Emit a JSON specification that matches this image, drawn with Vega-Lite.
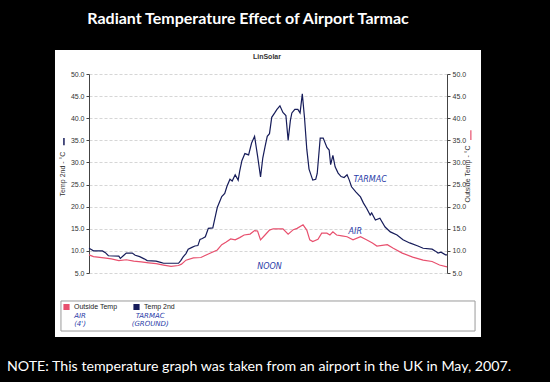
{
  "$schema": "https://vega.github.io/schema/vega-lite/v6.json",
  "width": 358,
  "height": 199,
  "autosize": {"type": "none"},
  "padding": {"left": 89, "top": 74, "right": 103, "bottom": 109},
  "background": "white",
  "title": {
    "text": "Radiant Temperature Effect of Airport Tarmac",
    "color": "white",
    "font": "Lato",
    "fontSize": 16,
    "fontWeight": "bold",
    "anchor": "middle",
    "frame": "group",
    "dx": -20,
    "offset": -27,
    "zindex": 1
  },
  "config": {
    "view": {"stroke": null},
    "axis": {
      "labelFont": "Liberation Sans",
      "titleFont": "Liberation Sans",
      "labelFontSize": 7,
      "titleFontSize": 7,
      "titleFontWeight": "normal",
      "labelColor": "#333333",
      "titleColor": "#333333",
      "domainColor": "#444444",
      "tickColor": "#444444",
      "tickSize": 3,
      "labelPadding": 2,
      "gridColor": "#c4c4c4",
      "gridDash": [3, 2],
      "gridWidth": 0.7
    },
    "legend": {
      "labelFont": "Liberation Sans",
      "labelFontSize": 7,
      "labelColor": "#222222"
    }
  },
  "datasets": {
    "temps": [
      {"h": 0, "s": "Temp 2nd", "t": 10.6},
      {"h": 0.15, "s": "Temp 2nd", "t": 10.3},
      {"h": 0.3, "s": "Temp 2nd", "t": 10.0},
      {"h": 0.9, "s": "Temp 2nd", "t": 10.0},
      {"h": 1.1, "s": "Temp 2nd", "t": 9.6},
      {"h": 1.3, "s": "Temp 2nd", "t": 8.9},
      {"h": 2.0, "s": "Temp 2nd", "t": 8.8},
      {"h": 2.1, "s": "Temp 2nd", "t": 8.3},
      {"h": 2.3, "s": "Temp 2nd", "t": 8.9},
      {"h": 2.5, "s": "Temp 2nd", "t": 9.5},
      {"h": 2.9, "s": "Temp 2nd", "t": 9.5},
      {"h": 3.1, "s": "Temp 2nd", "t": 9.0},
      {"h": 3.4, "s": "Temp 2nd", "t": 8.7},
      {"h": 3.7, "s": "Temp 2nd", "t": 8.2},
      {"h": 3.9, "s": "Temp 2nd", "t": 7.8},
      {"h": 4.5, "s": "Temp 2nd", "t": 7.7},
      {"h": 4.8, "s": "Temp 2nd", "t": 7.4},
      {"h": 5.0, "s": "Temp 2nd", "t": 7.2},
      {"h": 6.0, "s": "Temp 2nd", "t": 7.2},
      {"h": 6.15, "s": "Temp 2nd", "t": 7.8},
      {"h": 6.3, "s": "Temp 2nd", "t": 8.6},
      {"h": 6.5, "s": "Temp 2nd", "t": 9.4},
      {"h": 6.65, "s": "Temp 2nd", "t": 10.4},
      {"h": 6.9, "s": "Temp 2nd", "t": 10.8},
      {"h": 7.1, "s": "Temp 2nd", "t": 11.1},
      {"h": 7.3, "s": "Temp 2nd", "t": 11.2},
      {"h": 7.44, "s": "Temp 2nd", "t": 12.6},
      {"h": 7.6, "s": "Temp 2nd", "t": 12.8},
      {"h": 7.8, "s": "Temp 2nd", "t": 13.2},
      {"h": 8.0, "s": "Temp 2nd", "t": 15.1},
      {"h": 8.3, "s": "Temp 2nd", "t": 15.2},
      {"h": 8.45, "s": "Temp 2nd", "t": 17.5},
      {"h": 8.6, "s": "Temp 2nd", "t": 19.8},
      {"h": 8.9, "s": "Temp 2nd", "t": 22.3},
      {"h": 9.1, "s": "Temp 2nd", "t": 23.0},
      {"h": 9.25, "s": "Temp 2nd", "t": 24.6},
      {"h": 9.45, "s": "Temp 2nd", "t": 26.2},
      {"h": 9.6, "s": "Temp 2nd", "t": 25.8},
      {"h": 9.8, "s": "Temp 2nd", "t": 27.2},
      {"h": 10.0, "s": "Temp 2nd", "t": 26.0},
      {"h": 10.1, "s": "Temp 2nd", "t": 28.0},
      {"h": 10.25, "s": "Temp 2nd", "t": 30.4},
      {"h": 10.45, "s": "Temp 2nd", "t": 32.0},
      {"h": 10.7, "s": "Temp 2nd", "t": 31.7},
      {"h": 10.9, "s": "Temp 2nd", "t": 34.4},
      {"h": 11.1, "s": "Temp 2nd", "t": 35.9},
      {"h": 11.3, "s": "Temp 2nd", "t": 31.5},
      {"h": 11.5, "s": "Temp 2nd", "t": 26.7},
      {"h": 11.65, "s": "Temp 2nd", "t": 31.0},
      {"h": 11.8, "s": "Temp 2nd", "t": 33.5},
      {"h": 11.95, "s": "Temp 2nd", "t": 35.9},
      {"h": 12.1, "s": "Temp 2nd", "t": 36.5},
      {"h": 12.25, "s": "Temp 2nd", "t": 40.2},
      {"h": 12.45, "s": "Temp 2nd", "t": 41.2},
      {"h": 12.6, "s": "Temp 2nd", "t": 42.0},
      {"h": 12.8, "s": "Temp 2nd", "t": 42.8},
      {"h": 13.0, "s": "Temp 2nd", "t": 41.3},
      {"h": 13.2, "s": "Temp 2nd", "t": 40.6},
      {"h": 13.35, "s": "Temp 2nd", "t": 35.0},
      {"h": 13.5, "s": "Temp 2nd", "t": 39.5},
      {"h": 13.6, "s": "Temp 2nd", "t": 41.2},
      {"h": 13.8, "s": "Temp 2nd", "t": 42.0},
      {"h": 14.0, "s": "Temp 2nd", "t": 42.0},
      {"h": 14.15, "s": "Temp 2nd", "t": 41.2},
      {"h": 14.3, "s": "Temp 2nd", "t": 45.5},
      {"h": 14.45, "s": "Temp 2nd", "t": 40.0},
      {"h": 14.6, "s": "Temp 2nd", "t": 33.0},
      {"h": 14.75, "s": "Temp 2nd", "t": 28.5},
      {"h": 15.0, "s": "Temp 2nd", "t": 26.0},
      {"h": 15.2, "s": "Temp 2nd", "t": 26.2},
      {"h": 15.3, "s": "Temp 2nd", "t": 27.5},
      {"h": 15.5, "s": "Temp 2nd", "t": 35.5},
      {"h": 15.7, "s": "Temp 2nd", "t": 35.5},
      {"h": 15.95, "s": "Temp 2nd", "t": 33.4},
      {"h": 16.1, "s": "Temp 2nd", "t": 32.8},
      {"h": 16.2, "s": "Temp 2nd", "t": 29.5},
      {"h": 16.35, "s": "Temp 2nd", "t": 31.6},
      {"h": 16.5, "s": "Temp 2nd", "t": 29.0},
      {"h": 16.7, "s": "Temp 2nd", "t": 27.6},
      {"h": 16.9, "s": "Temp 2nd", "t": 26.8},
      {"h": 17.1, "s": "Temp 2nd", "t": 26.6},
      {"h": 17.3, "s": "Temp 2nd", "t": 27.2},
      {"h": 17.45, "s": "Temp 2nd", "t": 26.0},
      {"h": 17.6, "s": "Temp 2nd", "t": 24.5},
      {"h": 17.9, "s": "Temp 2nd", "t": 23.3},
      {"h": 18.2, "s": "Temp 2nd", "t": 22.2},
      {"h": 18.4, "s": "Temp 2nd", "t": 20.8},
      {"h": 18.6, "s": "Temp 2nd", "t": 19.7},
      {"h": 18.85, "s": "Temp 2nd", "t": 18.1},
      {"h": 18.95, "s": "Temp 2nd", "t": 18.6},
      {"h": 19.2, "s": "Temp 2nd", "t": 17.0},
      {"h": 19.5, "s": "Temp 2nd", "t": 17.4},
      {"h": 19.85, "s": "Temp 2nd", "t": 15.4},
      {"h": 20.2, "s": "Temp 2nd", "t": 14.3},
      {"h": 20.65, "s": "Temp 2nd", "t": 13.6},
      {"h": 21.05, "s": "Temp 2nd", "t": 12.5},
      {"h": 21.5, "s": "Temp 2nd", "t": 11.8},
      {"h": 22.05, "s": "Temp 2nd", "t": 11.1},
      {"h": 22.4, "s": "Temp 2nd", "t": 10.6},
      {"h": 23.0, "s": "Temp 2nd", "t": 10.4},
      {"h": 23.2, "s": "Temp 2nd", "t": 10.0},
      {"h": 23.4, "s": "Temp 2nd", "t": 9.5},
      {"h": 23.6, "s": "Temp 2nd", "t": 9.7},
      {"h": 23.9, "s": "Temp 2nd", "t": 9.1},
      {"h": 24.0, "s": "Temp 2nd", "t": 9.1},
      {"h": 0, "s": "Outside Temp", "t": 9.1},
      {"h": 0.3, "s": "Outside Temp", "t": 8.7},
      {"h": 1.0, "s": "Outside Temp", "t": 8.4},
      {"h": 1.5, "s": "Outside Temp", "t": 8.2},
      {"h": 2.0, "s": "Outside Temp", "t": 7.8},
      {"h": 2.5, "s": "Outside Temp", "t": 8.0},
      {"h": 3.0, "s": "Outside Temp", "t": 7.7},
      {"h": 3.5, "s": "Outside Temp", "t": 7.5},
      {"h": 4.0, "s": "Outside Temp", "t": 7.3},
      {"h": 4.5, "s": "Outside Temp", "t": 7.1},
      {"h": 5.0, "s": "Outside Temp", "t": 6.8},
      {"h": 5.5, "s": "Outside Temp", "t": 6.5},
      {"h": 6.0, "s": "Outside Temp", "t": 6.7},
      {"h": 6.2, "s": "Outside Temp", "t": 7.0},
      {"h": 6.5, "s": "Outside Temp", "t": 7.9},
      {"h": 7.0, "s": "Outside Temp", "t": 8.4},
      {"h": 7.5, "s": "Outside Temp", "t": 8.5},
      {"h": 8.0, "s": "Outside Temp", "t": 9.3},
      {"h": 8.6, "s": "Outside Temp", "t": 10.2},
      {"h": 8.9, "s": "Outside Temp", "t": 11.4},
      {"h": 9.2, "s": "Outside Temp", "t": 12.0},
      {"h": 9.5, "s": "Outside Temp", "t": 12.7},
      {"h": 9.8, "s": "Outside Temp", "t": 12.5},
      {"h": 10.1, "s": "Outside Temp", "t": 13.0},
      {"h": 10.4, "s": "Outside Temp", "t": 13.6},
      {"h": 10.8, "s": "Outside Temp", "t": 13.8},
      {"h": 11.1, "s": "Outside Temp", "t": 14.6},
      {"h": 11.3, "s": "Outside Temp", "t": 14.5},
      {"h": 11.5, "s": "Outside Temp", "t": 12.5},
      {"h": 11.8, "s": "Outside Temp", "t": 13.6},
      {"h": 12.1, "s": "Outside Temp", "t": 14.7},
      {"h": 12.35, "s": "Outside Temp", "t": 15.0},
      {"h": 13.0, "s": "Outside Temp", "t": 15.0},
      {"h": 13.35, "s": "Outside Temp", "t": 13.8},
      {"h": 13.7, "s": "Outside Temp", "t": 14.8},
      {"h": 13.95, "s": "Outside Temp", "t": 15.1},
      {"h": 14.35, "s": "Outside Temp", "t": 15.9},
      {"h": 14.6, "s": "Outside Temp", "t": 14.7},
      {"h": 14.8, "s": "Outside Temp", "t": 12.5},
      {"h": 15.0, "s": "Outside Temp", "t": 12.1},
      {"h": 15.35, "s": "Outside Temp", "t": 12.6},
      {"h": 15.6, "s": "Outside Temp", "t": 14.0},
      {"h": 15.95, "s": "Outside Temp", "t": 14.0},
      {"h": 16.15, "s": "Outside Temp", "t": 13.6},
      {"h": 16.35, "s": "Outside Temp", "t": 14.3},
      {"h": 16.6, "s": "Outside Temp", "t": 13.6},
      {"h": 16.95, "s": "Outside Temp", "t": 13.4},
      {"h": 17.3, "s": "Outside Temp", "t": 13.2},
      {"h": 17.7, "s": "Outside Temp", "t": 12.5},
      {"h": 18.2, "s": "Outside Temp", "t": 13.2},
      {"h": 18.6, "s": "Outside Temp", "t": 12.5},
      {"h": 19.0, "s": "Outside Temp", "t": 11.8},
      {"h": 19.3, "s": "Outside Temp", "t": 11.1},
      {"h": 20.0, "s": "Outside Temp", "t": 11.4},
      {"h": 20.4, "s": "Outside Temp", "t": 10.6},
      {"h": 21.0, "s": "Outside Temp", "t": 9.5},
      {"h": 21.7, "s": "Outside Temp", "t": 8.6},
      {"h": 22.4, "s": "Outside Temp", "t": 7.9},
      {"h": 23.0, "s": "Outside Temp", "t": 7.6},
      {"h": 23.5, "s": "Outside Temp", "t": 6.8},
      {"h": 24.0, "s": "Outside Temp", "t": 6.4}
    ],
    "notes": [
      {"h": 18.85, "t": 26.0, "label": "TARMAC"},
      {"h": 17.85, "t": 14.3, "label": "AIR"},
      {"h": 12.1, "t": 6.35, "label": "NOON"}
    ]
  },
  "resolve": {"scale": {"y": "independent"}},
  "layer": [
    {
      "data": {"name": "temps"},
      "transform": [{"filter": {"field": "s", "equal": "Temp 2nd"}}],
      "mark": {"type": "line", "strokeWidth": 1.2, "clip": false},
      "encoding": {
        "x": {
          "field": "h", "type": "quantitative",
          "scale": {"domain": [0, 24], "nice": false, "zero": false},
          "axis": {
            "values": [0,1,2,3,4,5,6,7,8,9,10,11,12,13,14,15,16,17,18,19,20,21,22,23,24],
            "labelExpr": "datum.value == 0 || datum.value == 24 ? 'M' : datum.value == 12 ? 'N' : '' + (datum.value % 12)",
            "title": "Fri 25 May 2007",
            "titleFontWeight": "bold",
            "titlePadding": 3,
            "grid": true
          }
        },
        "y": {
          "field": "t", "type": "quantitative",
          "scale": {"domain": [5, 50], "nice": false, "zero": false},
          "axis": {
            "orient": "left",
            "values": [5,10,15,20,25,30,35,40,45,50],
            "format": ".1f",
            "title": "Temp 2nd - °C",
            "titlePadding": 5,
            "grid": true
          }
        },
        "color": {
          "field": "s", "type": "nominal",
          "scale": {"domain": ["Outside Temp", "Temp 2nd"], "range": ["#e8506e", "#161c5a"]},
          "legend": {
            "title": null,
            "orient": "none",
            "legendX": -26,
            "legendY": 229,
            "direction": "horizontal",
            "symbolType": "square",
            "symbolSize": 10,
            "symbolStrokeWidth": 3,
            "columnPadding": 10,
            "padding": 0
          }
        }
      }
    },
    {
      "data": {"name": "temps"},
      "transform": [{"filter": {"field": "s", "equal": "Outside Temp"}}],
      "mark": {"type": "line", "strokeWidth": 1.2, "clip": false},
      "encoding": {
        "x": {"field": "h", "type": "quantitative", "scale": {"domain": [0, 24], "nice": false, "zero": false}},
        "y": {
          "field": "t", "type": "quantitative",
          "scale": {"domain": [5, 50], "nice": false, "zero": false},
          "axis": {
            "orient": "right",
            "values": [5,10,15,20,25,30,35,40,45,50],
            "format": ".1f",
            "title": "Outside Temp - °C",
            "titleAngle": 270,
            "titlePadding": 5,
            "grid": false
          }
        },
        "color": {"field": "s", "type": "nominal"}
      }
    },
    {
      "data": {"values": [{}]},
      "mark": {"type": "rect", "fill": "black", "clip": false},
      "encoding": {
        "x": {"datum": -10, "type": "quantitative", "scale": {"domain": [0, 24], "nice": false, "zero": false}, "axis": null},
        "x2": {"datum": 35},
        "y": {"datum": 55.43, "type": "quantitative", "scale": {"domain": [5, 50], "nice": false, "zero": false}, "axis": null},
        "y2": {"datum": 66.74}
      }
    },
    {
      "data": {"values": [{}]},
      "mark": {"type": "rect", "fill": "black", "clip": false},
      "encoding": {
        "x": {"datum": -10, "type": "quantitative", "scale": {"domain": [0, 24], "nice": false, "zero": false}, "axis": null},
        "x2": {"datum": 35},
        "y": {"datum": -9.47, "type": "quantitative", "scale": {"domain": [5, 50], "nice": false, "zero": false}, "axis": null},
        "y2": {"datum": -19.65}
      }
    },
    {
      "data": {"values": [{}]},
      "mark": {"type": "rect", "fill": "black", "clip": false},
      "encoding": {
        "x": {"datum": -10, "type": "quantitative", "scale": {"domain": [0, 24], "nice": false, "zero": false}, "axis": null},
        "x2": {"datum": -2.28},
        "y": {"datum": -9.6, "type": "quantitative", "scale": {"domain": [5, 50], "nice": false, "zero": false}, "axis": null},
        "y2": {"datum": 55.6}
      }
    },
    {
      "data": {"values": [{}]},
      "mark": {"type": "rect", "fill": "black", "clip": false},
      "encoding": {
        "x": {"datum": 26.28, "type": "quantitative", "scale": {"domain": [0, 24], "nice": false, "zero": false}, "axis": null},
        "x2": {"datum": 35},
        "y": {"datum": -9.6, "type": "quantitative", "scale": {"domain": [5, 50], "nice": false, "zero": false}, "axis": null},
        "y2": {"datum": 55.6}
      }
    },
    {
      "data": {"values": [{}]},
      "mark": {"type": "rect", "fill": null, "stroke": "#9a9a9a", "strokeWidth": 1, "clip": false},
      "encoding": {
        "x": {"datum": -1.88, "type": "quantitative", "scale": {"domain": [0, 24], "nice": false, "zero": false}, "axis": null},
        "x2": {"datum": 25.88},
        "y": {"datum": -1.33, "type": "quantitative", "scale": {"domain": [5, 50], "nice": false, "zero": false}, "axis": null},
        "y2": {"datum": -8.12}
      }
    },
    {
      "data": {"name": "notes"},
      "mark": {"type": "text", "font": "DejaVu Sans", "fontStyle": "italic", "fontSize": 8, "color": "#2a3ca8", "baseline": "middle", "clip": false},
      "encoding": {
        "x": {"field": "h", "type": "quantitative", "scale": {"domain": [0, 24], "nice": false, "zero": false}, "axis": null},
        "y": {"field": "t", "type": "quantitative", "scale": {"domain": [5, 50], "nice": false, "zero": false}, "axis": null},
        "text": {"field": "label"}
      }
    },
    {
      "data": {"values": [{}]},
      "mark": {"type": "text", "text": "LinSolar", "font": "Liberation Sans", "fontWeight": "bold", "fontSize": 7, "color": "#333333", "baseline": "middle", "clip": false},
      "encoding": {
        "x": {"datum": 11.93, "type": "quantitative", "scale": {"domain": [0, 24], "nice": false, "zero": false}, "axis": null},
        "y": {"datum": 53.84, "type": "quantitative", "scale": {"domain": [5, 50], "nice": false, "zero": false}, "axis": null}
      }
    },
    {
      "data": {"values": [{}]},
      "mark": {"type": "text", "text": ["AIR", "(4')"], "font": "DejaVu Sans", "fontStyle": "italic", "fontSize": 7, "color": "#2a3ca8", "baseline": "top", "align": "center", "lineHeight": 8, "clip": false},
      "encoding": {
        "x": {"datum": -0.6, "type": "quantitative", "scale": {"domain": [0, 24], "nice": false, "zero": false}, "axis": null},
        "y": {"datum": -3.82, "type": "quantitative", "scale": {"domain": [5, 50], "nice": false, "zero": false}, "axis": null}
      }
    },
    {
      "data": {"values": [{}]},
      "mark": {"type": "text", "text": ["TARMAC", "(GROUND)"], "font": "DejaVu Sans", "fontStyle": "italic", "fontSize": 7, "color": "#2a3ca8", "baseline": "top", "align": "center", "lineHeight": 8, "clip": false},
      "encoding": {
        "x": {"datum": 4.1, "type": "quantitative", "scale": {"domain": [0, 24], "nice": false, "zero": false}, "axis": null},
        "y": {"datum": -3.82, "type": "quantitative", "scale": {"domain": [5, 50], "nice": false, "zero": false}, "axis": null}
      }
    },
    {
      "data": {"values": [{}]},
      "mark": {"type": "rule", "color": "#161c5a", "strokeWidth": 1.5, "clip": false},
      "encoding": {
        "x": {"datum": -1.68, "type": "quantitative", "scale": {"domain": [0, 24], "nice": false, "zero": false}, "axis": null},
        "y": {"datum": 35.5, "type": "quantitative", "scale": {"domain": [5, 50], "nice": false, "zero": false}, "axis": null},
        "y2": {"datum": 33.9}
      }
    },
    {
      "data": {"values": [{}]},
      "mark": {"type": "rule", "color": "#e8506e", "strokeWidth": 1.2, "clip": false},
      "encoding": {
        "x": {"datum": 25.6, "type": "quantitative", "scale": {"domain": [0, 24], "nice": false, "zero": false}, "axis": null},
        "y": {"datum": 37.3, "type": "quantitative", "scale": {"domain": [5, 50], "nice": false, "zero": false}, "axis": null},
        "y2": {"datum": 35.1}
      }
    },
    {
      "data": {"values": [{}]},
      "mark": {"type": "text", "text": "NOTE: This temperature graph was taken from an airport in the UK in May, 2007.", "font": "Lato", "fontSize": 14.2, "color": "white", "baseline": "middle", "align": "center", "clip": false},
      "encoding": {
        "x": {"datum": 11.4, "type": "quantitative", "scale": {"domain": [0, 24], "nice": false, "zero": false}, "axis": null},
        "y": {"datum": -16.26, "type": "quantitative", "scale": {"domain": [5, 50], "nice": false, "zero": false}, "axis": null}
      }
    }
  ]
}
